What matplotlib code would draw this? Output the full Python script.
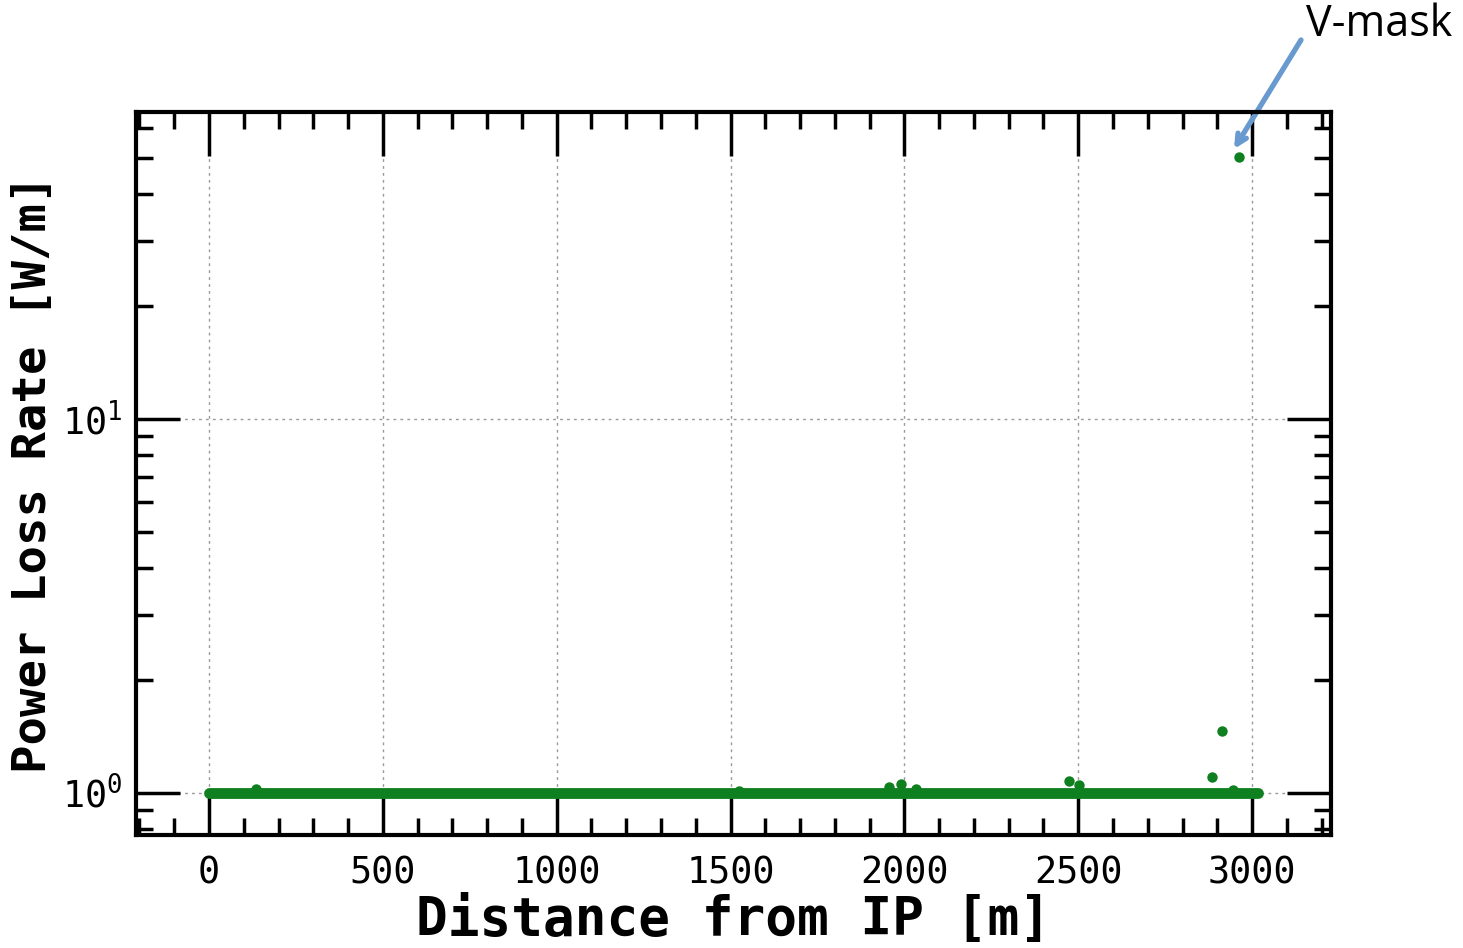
import math
import matplotlib
matplotlib.use("Agg")
import matplotlib.pyplot as plt
from matplotlib.ticker import FixedLocator, LogLocator, FuncFormatter, NullFormatter

# --- data ---
baseline_range = [0, 3017]          # dense points at 1 W/m over this span
baseline_level = 1.0
outlier_x = [135, 1524, 1956, 1990, 2033, 2473, 2502, 2885, 2913, 2944, 2962]
outlier_y = [1.025, 1.01, 1.037, 1.057, 1.025, 1.077, 1.05, 1.10, 1.467, 1.02, 50.3]
xticks = [0, 500, 1000, 1500, 2000, 2500, 3000]
xlabel = "Distance from IP [m]"
ylabel = "Power Loss Rate [W/m]"
note = "V-mask"

plt.rcParams['mathtext.fontset'] = 'custom'
plt.rcParams['mathtext.rm'] = 'DejaVu Sans Mono'
plt.rcParams['mathtext.it'] = 'DejaVu Sans Mono'
plt.rcParams['mathtext.bf'] = 'DejaVu Sans Mono:bold'

W, H = 1463, 948
fig = plt.figure(figsize=(W/100, H/100), dpi=100)
ax = fig.add_axes([136/W, 1-835/H, (1331-136)/W, (835-112)/H])

green = '#0f8020'
ax.plot(baseline_range, [baseline_level, baseline_level], color=green, lw=7.8,
        solid_capstyle='round', zorder=3)
ax.plot(outlier_x, outlier_y, 'o', color=green, ms=7.5, mec='none', zorder=3)

ax.set_yscale('log')
ax.set_xlim(-210, 3227)
ax.set_ylim(0.772, 66.2)

ax.xaxis.set_major_locator(FixedLocator(xticks))
ax.xaxis.set_minor_locator(FixedLocator([v for v in range(-200, 3300, 100) if v % 500 != 0]))
ax.yaxis.set_major_locator(LogLocator(base=10))
ax.yaxis.set_minor_locator(LogLocator(base=10, subs=range(2, 10)))
ax.yaxis.set_minor_formatter(NullFormatter())
ax.yaxis.set_major_formatter(FuncFormatter(lambda v, p: r'$\mathdefault{10^{%d}}$' % round(math.log10(v))))

ax.tick_params(which='both', direction='in', top=True, right=True, width=2.5)
ax.tick_params(which='major', length=32, pad=14, labelsize=26.5)
ax.tick_params(which='minor', length=12)
for lab in ax.get_xticklabels() + ax.get_yticklabels():
    lab.set_family('DejaVu Sans Mono')
ax.tick_params(axis='y', which='major', pad=10)

for s in ax.spines.values():
    s.set_linewidth(3)
    s.set_zorder(4)

ax.grid(True, which='major', color='#999999', ls=(0, (2, 3)), lw=1)
ax.set_axisbelow(True)

ax.set_xlabel(xlabel, family='DejaVu Sans Mono', fontweight='bold', fontsize=38, labelpad=2)
ax.set_ylabel(ylabel, family='DejaVu Sans Mono', fontweight='bold', fontsize=34, labelpad=4)

fig.text(1379/W, 1-25/H, note, ha='center', va='center', fontsize=31, family='Open Sans')
ax.annotate('', xy=(1234/W, 1-149/H), xycoords='figure fraction',
            xytext=(1301/W, 1-40/H), textcoords='figure fraction',
            annotation_clip=False,
            arrowprops=dict(arrowstyle='->,head_length=0.7,head_width=0.35', color='#6899cf', lw=3.8,
                            shrinkA=0, shrinkB=0))

fig.savefig('out.png', dpi=100)
